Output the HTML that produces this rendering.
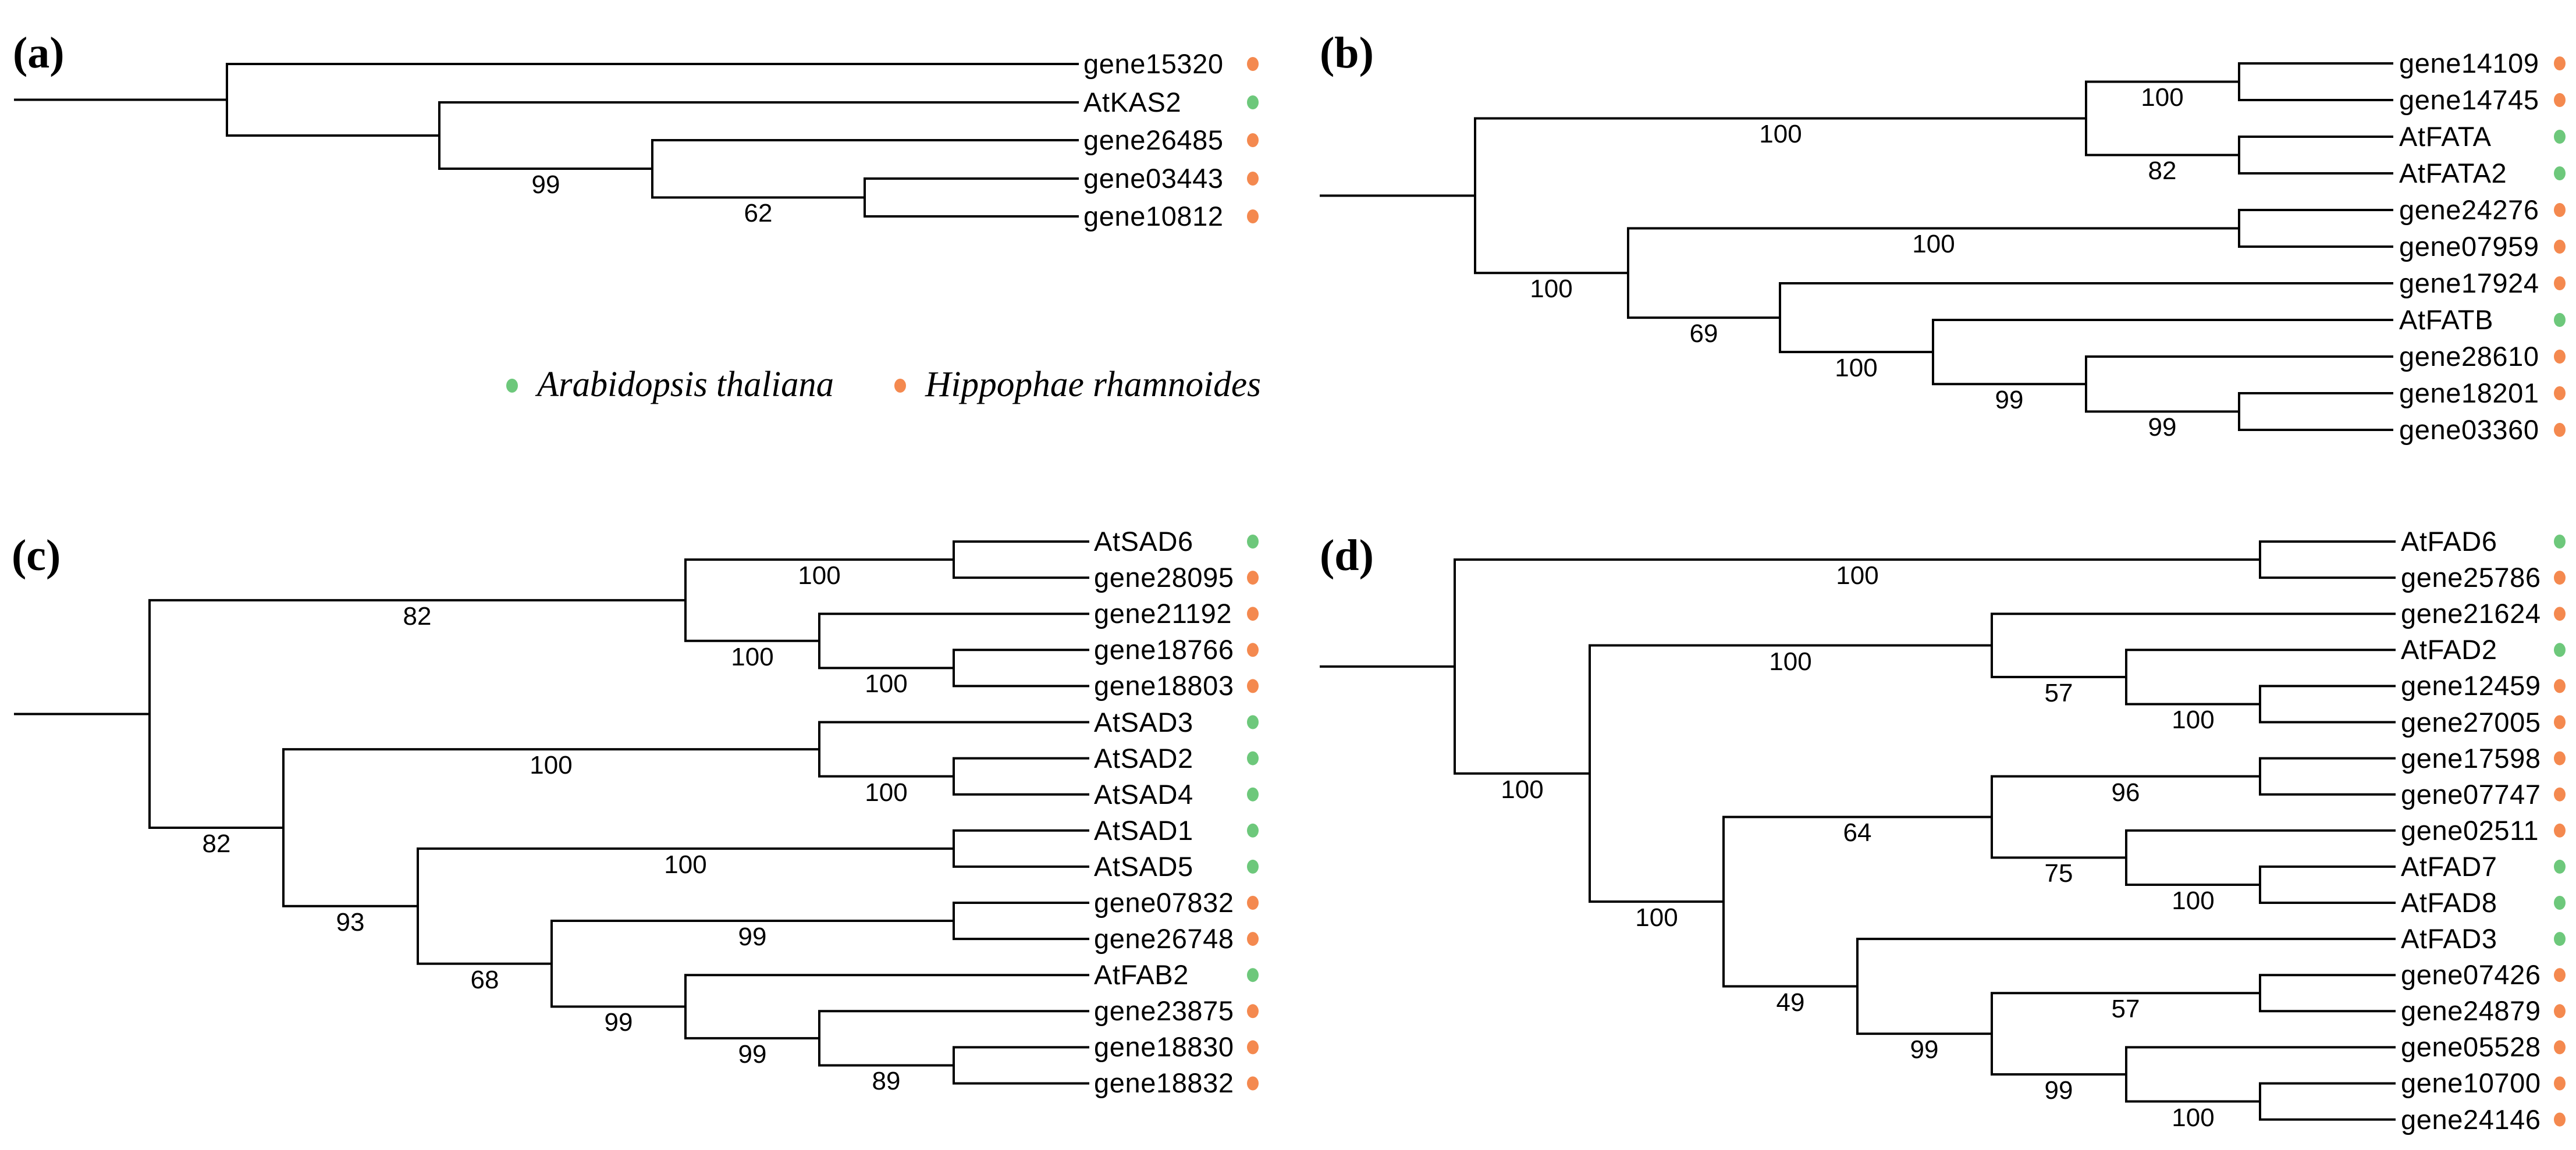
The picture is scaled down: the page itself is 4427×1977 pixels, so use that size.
<!DOCTYPE html>
<html><head><meta charset="utf-8"><style>
html,body{margin:0;padding:0;background:#fff;}
svg{display:block;}
.t{font-family:"Liberation Sans",sans-serif;font-size:47px;fill:#000;letter-spacing:0.6px;}
.n{font-family:"Liberation Sans",sans-serif;font-size:44px;fill:#000;text-anchor:middle;}
.p{font-family:"Liberation Serif",serif;font-size:76px;font-weight:bold;fill:#000;}
.lg{font-family:"Liberation Serif",serif;font-style:italic;font-size:62px;fill:#000;}
.o{fill:#F4894F;} .g{fill:#6DC87B;}
path{stroke:#000;stroke-width:4;fill:none;stroke-linecap:square;}
</style></head><body>
<svg width="4427" height="1977" viewBox="0 0 4427 1977" xmlns="http://www.w3.org/2000/svg">
<rect width="4427" height="1977" fill="#fff"/>
<!-- panel letters -->
<text class="p" x="22" y="116">(a)</text>
<text class="p" x="2268" y="116">(b)</text>
<text class="p" x="20" y="980">(c)</text>
<text class="p" x="2268" y="980">(d)</text>

<!-- ===== (a) ===== -->
<path d="M26 171.5 H390 M390 110 V233 M390 110 H1852 M390 233 H755 M755 176 V290 M755 176 H1852 M755 290 H1121 M1121 241 V339.5 M1121 241 H1852 M1121 339.5 H1486 M1486 307 V372 M1486 307 H1852 M1486 372 H1852"/>
<text class="n" x="938" y="332">99</text>
<text class="n" x="1303" y="381">62</text>
<g class="t">
<text x="1862" y="126">gene15320</text>
<text x="1862" y="192">AtKAS2</text>
<text x="1862" y="257">gene26485</text>
<text x="1862" y="323">gene03443</text>
<text x="1862" y="388">gene10812</text>
</g>
<ellipse class="o" cx="2153" cy="110" rx="10" ry="12"/>
<ellipse class="g" cx="2153" cy="176" rx="10" ry="12"/>
<ellipse class="o" cx="2153" cy="241" rx="10" ry="12"/>
<ellipse class="o" cx="2153" cy="307" rx="10" ry="12"/>
<ellipse class="o" cx="2153" cy="372" rx="10" ry="12"/>
<!-- legend -->
<ellipse class="g" cx="880" cy="663" rx="10" ry="12"/>
<text class="lg" x="923" y="681" textLength="510" lengthAdjust="spacingAndGlyphs">Arabidopsis thaliana</text>
<ellipse class="o" cx="1547" cy="663" rx="10" ry="12"/>
<text class="lg" x="1590" y="681" textLength="577" lengthAdjust="spacingAndGlyphs">Hippophae rhamnoides</text>

<!-- ===== (b) ===== -->
<path d="M2270 336.4 H2535 M2535 203.5 V469.3 M2535 203.5 H3585 M3585 140.5 V266.5 M3585 140.5 H3848 M3585 266.5 H3848 M3848 109 V172 M3848 109 H4111 M3848 172 H4111 M3848 235 V298 M3848 235 H4111 M3848 298 H4111 M2535 469.3 H2798 M2798 392.5 V546.1 M2798 392.5 H3848 M3848 361 V424 M3848 361 H4111 M3848 424 H4111 M2798 546.1 H3059 M3059 487 V605.1 M3059 487 H4111 M3059 605.1 H3322 M3322 550 V660.25 M3322 550 H4111 M3322 660.25 H3585 M3585 613 V707.5 M3585 613 H4111 M3585 707.5 H3848 M3848 676 V739 M3848 676 H4111 M3848 739 H4111"/>
<text class="n" x="3060" y="245">100</text>
<text class="n" x="3716" y="182">100</text>
<text class="n" x="3716" y="308">82</text>
<text class="n" x="2666" y="511">100</text>
<text class="n" x="3323" y="434">100</text>
<text class="n" x="2928" y="588">69</text>
<text class="n" x="3190" y="647">100</text>
<text class="n" x="3453" y="702">99</text>
<text class="n" x="3716" y="749">99</text>
<g class="t">
<text x="4123" y="125">gene14109</text>
<text x="4123" y="188">gene14745</text>
<text x="4123" y="251">AtFATA</text>
<text x="4123" y="314">AtFATA2</text>
<text x="4123" y="377">gene24276</text>
<text x="4123" y="440">gene07959</text>
<text x="4123" y="503">gene17924</text>
<text x="4123" y="566">AtFATB</text>
<text x="4123" y="629">gene28610</text>
<text x="4123" y="692">gene18201</text>
<text x="4123" y="755">gene03360</text>
</g>
<ellipse class="o" cx="4399" cy="109" rx="10" ry="12"/>
<ellipse class="o" cx="4399" cy="172" rx="10" ry="12"/>
<ellipse class="g" cx="4399" cy="235" rx="10" ry="12"/>
<ellipse class="g" cx="4399" cy="298" rx="10" ry="12"/>
<ellipse class="o" cx="4399" cy="361" rx="10" ry="12"/>
<ellipse class="o" cx="4399" cy="424" rx="10" ry="12"/>
<ellipse class="o" cx="4399" cy="487" rx="10" ry="12"/>
<ellipse class="g" cx="4399" cy="550" rx="10" ry="12"/>
<ellipse class="o" cx="4399" cy="613" rx="10" ry="12"/>
<ellipse class="o" cx="4399" cy="676" rx="10" ry="12"/>
<ellipse class="o" cx="4399" cy="739" rx="10" ry="12"/>

<!-- ===== (c) ===== -->
<path d="M26 1227.5 H257 M257 1031.9 V1423 M257 1031.9 H1178 M1178 962.05 V1101.8 M1178 962.05 H1639 M1639 931 V993.1 M1639 931 H1870 M1639 993.1 H1870 M1178 1101.8 H1408 M1408 1055.2 V1148.35 M1408 1055.2 H1870 M1408 1148.35 H1639 M1639 1117.3 V1179.4 M1639 1117.3 H1870 M1639 1179.4 H1870 M257 1423 H487 M487 1288.1 V1557.8 M487 1288.1 H1408 M1408 1241.5 V1334.65 M1408 1241.5 H1870 M1408 1334.65 H1639 M1639 1303.6 V1365.7 M1639 1303.6 H1870 M1639 1365.7 H1870 M487 1557.8 H718 M718 1458.85 V1656.8 M718 1458.85 H1639 M1639 1427.8 V1489.9 M1639 1427.8 H1870 M1639 1489.9 H1870 M718 1656.8 H948 M948 1583.05 V1730.55 M948 1583.05 H1639 M1639 1552 V1614.1 M1639 1552 H1870 M1639 1614.1 H1870 M948 1730.55 H1178 M1178 1676.2 V1784.9 M1178 1676.2 H1870 M1178 1784.9 H1408 M1408 1738.3 V1831.45 M1408 1738.3 H1870 M1408 1831.45 H1639 M1639 1800.4 V1862.5 M1639 1800.4 H1870 M1639 1862.5 H1870"/>
<text class="n" x="717" y="1074">82</text>
<text class="n" x="1408" y="1004">100</text>
<text class="n" x="1293" y="1144">100</text>
<text class="n" x="1523" y="1190">100</text>
<text class="n" x="372" y="1465">82</text>
<text class="n" x="947" y="1330">100</text>
<text class="n" x="1523" y="1377">100</text>
<text class="n" x="602" y="1600">93</text>
<text class="n" x="1178" y="1501">100</text>
<text class="n" x="833" y="1699">68</text>
<text class="n" x="1293" y="1625">99</text>
<text class="n" x="1063" y="1772">99</text>
<text class="n" x="1293" y="1827">99</text>
<text class="n" x="1523" y="1873">89</text>
<g class="t">
<text x="1880" y="947">AtSAD6</text>
<text x="1880" y="1009">gene28095</text>
<text x="1880" y="1071">gene21192</text>
<text x="1880" y="1133">gene18766</text>
<text x="1880" y="1195">gene18803</text>
<text x="1880" y="1258">AtSAD3</text>
<text x="1880" y="1320">AtSAD2</text>
<text x="1880" y="1382">AtSAD4</text>
<text x="1880" y="1444">AtSAD1</text>
<text x="1880" y="1506">AtSAD5</text>
<text x="1880" y="1568">gene07832</text>
<text x="1880" y="1630">gene26748</text>
<text x="1880" y="1692">AtFAB2</text>
<text x="1880" y="1754">gene23875</text>
<text x="1880" y="1816">gene18830</text>
<text x="1880" y="1878">gene18832</text>
</g>
<ellipse class="g" cx="2153" cy="931" rx="10" ry="12"/>
<ellipse class="o" cx="2153" cy="993.1" rx="10" ry="12"/>
<ellipse class="o" cx="2153" cy="1055.2" rx="10" ry="12"/>
<ellipse class="o" cx="2153" cy="1117.3" rx="10" ry="12"/>
<ellipse class="o" cx="2153" cy="1179.4" rx="10" ry="12"/>
<ellipse class="g" cx="2153" cy="1241.5" rx="10" ry="12"/>
<ellipse class="g" cx="2153" cy="1303.6" rx="10" ry="12"/>
<ellipse class="g" cx="2153" cy="1365.7" rx="10" ry="12"/>
<ellipse class="g" cx="2153" cy="1427.8" rx="10" ry="12"/>
<ellipse class="g" cx="2153" cy="1489.9" rx="10" ry="12"/>
<ellipse class="o" cx="2153" cy="1552" rx="10" ry="12"/>
<ellipse class="o" cx="2153" cy="1614.1" rx="10" ry="12"/>
<ellipse class="g" cx="2153" cy="1676.2" rx="10" ry="12"/>
<ellipse class="o" cx="2153" cy="1738.3" rx="10" ry="12"/>
<ellipse class="o" cx="2153" cy="1800.4" rx="10" ry="12"/>
<ellipse class="o" cx="2153" cy="1862.5" rx="10" ry="12"/>

<!-- ===== (d) ===== -->
<path d="M2270 1145.9 H2500 M2500 962.05 V1329.8 M2500 962.05 H3884 M3884 931 V993.1 M3884 931 H4115 M3884 993.1 H4115 M2500 1329.8 H2732 M2732 1109.55 V1550.05 M2732 1109.55 H3423 M3423 1055.2 V1163.9 M3423 1055.2 H4115 M3423 1163.9 H3654 M3654 1117.3 V1210.45 M3654 1117.3 H4115 M3654 1210.45 H3884 M3884 1179.4 V1241.5 M3884 1179.4 H4115 M3884 1241.5 H4115 M2732 1550.05 H2962 M2962 1404.5 V1695.6 M2962 1404.5 H3423 M3423 1334.65 V1474.4 M3423 1334.65 H3884 M3884 1303.6 V1365.7 M3884 1303.6 H4115 M3884 1365.7 H4115 M3423 1474.4 H3654 M3654 1427.8 V1520.95 M3654 1427.8 H4115 M3654 1520.95 H3884 M3884 1489.9 V1552 M3884 1489.9 H4115 M3884 1552 H4115 M2962 1695.6 H3192 M3192 1614.1 V1777.1 M3192 1614.1 H4115 M3192 1777.1 H3423 M3423 1707.25 V1847 M3423 1707.25 H3884 M3884 1676.2 V1738.3 M3884 1676.2 H4115 M3884 1738.3 H4115 M3423 1847 H3654 M3654 1800.4 V1893.55 M3654 1800.4 H4115 M3654 1893.55 H3884 M3884 1862.5 V1924.6 M3884 1862.5 H4115 M3884 1924.6 H4115"/>
<text class="n" x="3192" y="1004">100</text>
<text class="n" x="2616" y="1372">100</text>
<text class="n" x="3077" y="1152">100</text>
<text class="n" x="3538" y="1206">57</text>
<text class="n" x="3769" y="1252">100</text>
<text class="n" x="2847" y="1592">100</text>
<text class="n" x="3192" y="1446">64</text>
<text class="n" x="3653" y="1377">96</text>
<text class="n" x="3538" y="1516">75</text>
<text class="n" x="3769" y="1563">100</text>
<text class="n" x="3077" y="1738">49</text>
<text class="n" x="3307" y="1819">99</text>
<text class="n" x="3653" y="1749">57</text>
<text class="n" x="3538" y="1889">99</text>
<text class="n" x="3769" y="1936">100</text>
<g class="t">
<text x="4126" y="947">AtFAD6</text>
<text x="4126" y="1009">gene25786</text>
<text x="4126" y="1071">gene21624</text>
<text x="4126" y="1133">AtFAD2</text>
<text x="4126" y="1195">gene12459</text>
<text x="4126" y="1258">gene27005</text>
<text x="4126" y="1320">gene17598</text>
<text x="4126" y="1382">gene07747</text>
<text x="4126" y="1444">gene02511</text>
<text x="4126" y="1506">AtFAD7</text>
<text x="4126" y="1568">AtFAD8</text>
<text x="4126" y="1630">AtFAD3</text>
<text x="4126" y="1692">gene07426</text>
<text x="4126" y="1754">gene24879</text>
<text x="4126" y="1816">gene05528</text>
<text x="4126" y="1878">gene10700</text>
<text x="4126" y="1941">gene24146</text>
</g>
<ellipse class="g" cx="4399" cy="931" rx="10" ry="12"/>
<ellipse class="o" cx="4399" cy="993.1" rx="10" ry="12"/>
<ellipse class="o" cx="4399" cy="1055.2" rx="10" ry="12"/>
<ellipse class="g" cx="4399" cy="1117.3" rx="10" ry="12"/>
<ellipse class="o" cx="4399" cy="1179.4" rx="10" ry="12"/>
<ellipse class="o" cx="4399" cy="1241.5" rx="10" ry="12"/>
<ellipse class="o" cx="4399" cy="1303.6" rx="10" ry="12"/>
<ellipse class="o" cx="4399" cy="1365.7" rx="10" ry="12"/>
<ellipse class="o" cx="4399" cy="1427.8" rx="10" ry="12"/>
<ellipse class="g" cx="4399" cy="1489.9" rx="10" ry="12"/>
<ellipse class="g" cx="4399" cy="1552" rx="10" ry="12"/>
<ellipse class="g" cx="4399" cy="1614.1" rx="10" ry="12"/>
<ellipse class="o" cx="4399" cy="1676.2" rx="10" ry="12"/>
<ellipse class="o" cx="4399" cy="1738.3" rx="10" ry="12"/>
<ellipse class="o" cx="4399" cy="1800.4" rx="10" ry="12"/>
<ellipse class="o" cx="4399" cy="1862.5" rx="10" ry="12"/>
<ellipse class="o" cx="4399" cy="1924.6" rx="10" ry="12"/>
</svg>
</body></html>
